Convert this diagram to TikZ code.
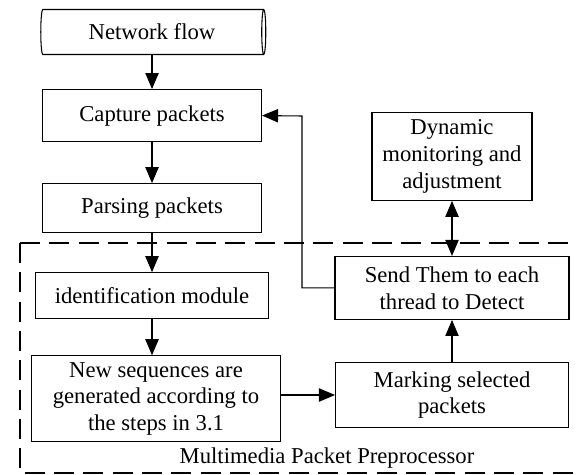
\documentclass[tikz,border=0pt]{standalone}
\usepackage{fontspec}
\setmainfont{Liberation Serif}
\usetikzlibrary{positioning,shapes.geometric,arrows.meta}

\tikzset{
    box/.style={draw, line width=0.8pt, inner sep=0pt, align=center},
    flow/.style={-{Triangle[length=12pt, width=10pt]}, line width=0.8pt},
    module/.style={draw, line width=0.8pt, dash pattern=on 15pt off 7pt}
}

\begin{document}
\begin{tikzpicture}[x=0.75pt, y=-0.75pt, font=\fontsize{17}{20}\selectfont]
        \useasboundingbox (0,0) rectangle (577,474);

        \node (net) [draw, line width=0.8pt, cylinder, aspect=0.25, inner sep=0pt,
            minimum width=33.75pt, minimum height=168.75pt] at (152,32) {Network flow};

        \node (cap) [box, below=25.5pt of net, minimum width=164.25pt, minimum height=39pt] {Capture packets};

        \node (parse) [box, below=30.75pt of cap, minimum width=164.25pt, minimum height=36.75pt] {Parsing packets};

        \node (ident) [box, below=29.25pt of parse, minimum width=174.75pt, minimum height=34.5pt] {identification module};

        \node (newseq) [box, below=27pt of ident, xshift=3pt, minimum width=186.75pt, minimum height=64.5pt] {
            New sequences are\\generated according to\\the steps in 3.1
        };

        \node (mark) [box, minimum width=174.75pt, minimum height=48.75pt] at (452,395) {
            Marking selected\\packets
        };

        \node (send) [box, above=31.5pt of mark, minimum width=175.5pt, minimum height=47.25pt] {
            Send Them to each\\thread to Detect
        };

        \node (dyn) [box, above=41.25pt of send, minimum width=120pt, minimum height=66pt] {
            Dynamic\\monitoring and\\adjustment
        };

        % dashed frame of the preprocessor
        \draw[module] (20,243) -- (660,243);
        \draw[module] (20,243) -- (20,473) -- (660,473);
        \node (pre) at (327,458) {Multimedia Packet Preprocessor};

        % Drawing arrows between the steps
        \draw[flow] (net.south) -- (cap.north);
        \draw[flow] (cap.south) -- (parse.north);
        \draw[flow] (parse.south) -- (ident.north);
        \draw[flow] (ident.south) -- (ident.south |- newseq.north);
        \draw[flow] (newseq.east |- mark.west) -- (mark.west);
        \draw[flow] (mark.north) -- (send.south);
        \draw[{Triangle[length=12pt, width=10pt]}-{Triangle[length=12pt, width=10pt]}, line width=0.8pt] (dyn.south) -- (send.north);
        \draw[flow] (send.west) -| (302,116) -- (cap.east);
    \end{tikzpicture}
\end{document}
